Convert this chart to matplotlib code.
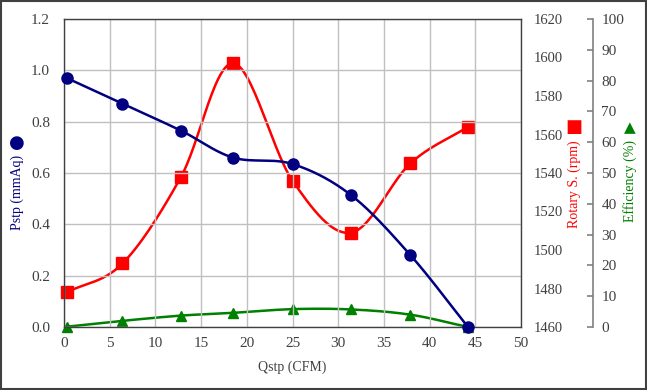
import numpy as np
import matplotlib.pyplot as plt
from matplotlib.patches import Rectangle

plt.rcParams['font.family'] = ['Liberation Serif', 'DejaVu Sans']

# 数据
qstp = [0.3, 6.4, 12.8, 18.5, 25.0, 31.4, 37.9, 44.2]
pstp = [0.97, 0.87, 0.765, 0.66, 0.635, 0.514, 0.28, 0.0]
rpm = [1478, 1493, 1538, 1597, 1536, 1509, 1545, 1564]
eff = [0.1, 2.0, 3.7, 4.6, 5.8, 5.7, 4.0, 0.0]

x_ticks = list(range(0, 51, 5))
pstp_ticks = [0.0, 0.2, 0.4, 0.6, 0.8, 1.0, 1.2]
rpm_ticks = list(range(1460, 1621, 20))
eff_ticks = list(range(0, 101, 10))

NAVY = '#000080'
RED = '#ff0000'
GREEN = '#008000'


def smooth(x, y, n=30):
    # Catmull-Rom 平滑曲线 (类似 Excel 的平滑线)
    x = np.asarray(x, float)
    y = np.asarray(y, float)
    px = np.concatenate([[2 * x[0] - x[1]], x, [2 * x[-1] - x[-2]]])
    py = np.concatenate([[2 * y[0] - y[1]], y, [2 * y[-1] - y[-2]]])
    xs, ys = [], []
    t = np.linspace(0, 1, n)
    for i in range(1, len(px) - 2):
        for p, out in ((px, xs), (py, ys)):
            p0, p1, p2, p3 = p[i - 1], p[i], p[i + 1], p[i + 2]
            out.extend(0.5 * ((2 * p1) + (-p0 + p2) * t
                              + (2 * p0 - 5 * p1 + 4 * p2 - p3) * t ** 2
                              + (-p0 + 3 * p1 - 3 * p2 + p3) * t ** 3))
    return np.array(xs), np.array(ys)


W, H = 647, 390
fig = plt.figure(figsize=(W / 100, H / 100), dpi=100)
ax = fig.add_axes([64 / W, 1 - 327 / H, (521 - 64) / W, (327 - 19) / H])

# 左轴: Pstp
ax.set_xlim(0, 50)
ax.set_ylim(0, 1.2)
ax.set_xticks(x_ticks)
ax.set_yticks(pstp_ticks)
ax.set_yticklabels([f'{v:.1f}' for v in pstp_ticks])
ax.grid(True, color='#c0c0c0', linewidth=1.0)
ax.set_axisbelow(True)
ax.tick_params(axis='y', length=0, pad=10, labelsize=11, colors='#404040')
ax.tick_params(axis='x', length=0, pad=7, labelsize=11, colors='#404040')
for s in ax.spines.values():
    s.set_color('#404040')
    s.set_linewidth(1.0)
ax.set_xlabel('Qstp (CFM)', fontsize=10, color='#404040', labelpad=8)

# 右轴1: 转速
ax2 = ax.twinx()
ax2.set_ylim(1460, 1620)
ax2.set_yticks(rpm_ticks)
ax2.tick_params(axis='y', length=0, pad=9, labelsize=10.5, colors='#404040')
for s in ax2.spines.values():
    s.set_visible(False)

# 右轴2: 效率
ax3 = ax.twinx()
ax3.spines['right'].set_position(('axes', (593 - 64) / (521 - 64)))
ax3.set_ylim(0, 100)
ax3.set_yticks(eff_ticks)
ax3.tick_params(axis='y', direction='in', length=4, width=1.2, pad=6,
                labelsize=11, colors='#404040', color='#808080')
for k, s in ax3.spines.items():
    s.set_visible(k == 'right')
ax3.spines['right'].set_color('#808080')
ax3.spines['right'].set_linewidth(1.2)

# 曲线
sx, sy = smooth(qstp, eff)
ax3.plot(sx, sy, color=GREEN, linewidth=1.8, clip_on=False, zorder=3)
ax3.plot(qstp, eff, '^', color=GREEN, markersize=7.5, clip_on=False, zorder=4)

sx, sy = smooth(qstp, rpm)
ax2.plot(sx, sy, color=RED, linewidth=1.8, clip_on=False, zorder=3)
ax2.plot(qstp, rpm, 's', color=RED, markersize=8, clip_on=False, zorder=4)

sx, sy = smooth(qstp, pstp)
ax.plot(sx, sy, color=NAVY, linewidth=1.8, clip_on=False, zorder=3)
ax.plot(qstp, pstp, 'o', color=NAVY, markersize=8, clip_on=False, zorder=4)
ax.set_zorder(ax3.get_zorder() + 1)
ax.patch.set_visible(False)

# 轴标题
fig.text(17 / W, 1 - 192 / H, 'Pstp (mmAq)', rotation=90, color=NAVY,
         fontsize=10, ha='center', va='center')
fig.text(17 / W, 1 - 143 / H, '\u25cf', color=NAVY, family='DejaVu Sans',
         fontsize=13, ha='center', va='center')
fig.text(574 / W, 1 - 184 / H, 'Rotary S. (rpm)', rotation=90, color=RED,
         fontsize=10, ha='center', va='center')
fig.text(574 / W, 1 - 127 / H, '\u25a0', color=RED, family='DejaVu Sans',
         fontsize=13, ha='center', va='center')
fig.text(630 / W, 1 - 181 / H, 'Efficiency (%)', rotation=90, color=GREEN,
         fontsize=10, ha='center', va='center')
fig.text(630 / W, 1 - 128 / H, '\u25b2', color=GREEN, family='DejaVu Sans',
         fontsize=11, ha='center', va='center')

# 外框
fig.patches.append(Rectangle((0.002, 0.003), 0.996, 0.994, transform=fig.transFigure,
                             fill=False, edgecolor='#404040', linewidth=1.5))

fig.savefig('out.png', dpi=100)
